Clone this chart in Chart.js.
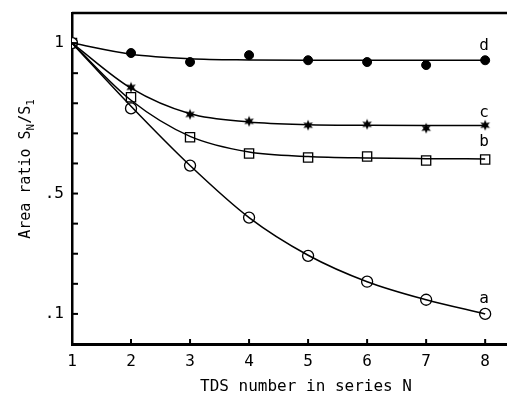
<!DOCTYPE html>
<html>
<head>
<meta charset="utf-8">
<script src="https://cdn.jsdelivr.net/npm/chart.js@4.4.1/dist/chart.umd.min.js"></script>
<style>
html, body { margin: 0; padding: 0; background: #fff; }
</style>
</head>
<body>
<canvas id="lineChart1" width="507" height="395"></canvas>
<script>
// N values
var nVals = [1, 2, 3, 4, 5, 6, 7, 8];
var ptsD = [1.0, 0.967, 0.937, 0.96, 0.943, 0.937, 0.927, 0.943];
var ptsC = [1.0, 0.853, 0.763, 0.74, 0.727, 0.73, 0.717, 0.727];
var ptsB = [1.0, 0.82, 0.687, 0.633, 0.62, 0.623, 0.61, 0.613];
var ptsA = [1.0, 0.783, 0.593, 0.42, 0.293, 0.207, 0.147, 0.1];
// drawn curves at each N
var fitD = [1.0, 0.963, 0.948, 0.944, 0.943, 0.943, 0.943, 0.943];
var fitC = [1.0, 0.85, 0.765, 0.738, 0.729, 0.727, 0.726, 0.726];
var fitB = [1.0, 0.81, 0.69, 0.638, 0.623, 0.618, 0.616, 0.615];
var fitA = [1.0, 0.79, 0.593, 0.42, 0.295, 0.207, 0.147, 0.1];
var curveNames = ["d", "c", "b", "a"];
var yLabelTicks = [1, 0.5, 0.1];

var FONT = "'DejaVu Sans Mono', monospace";

function xy(ys) {
  return nVals.map(function (n, i) { return { x: n, y: ys[i] }; });
}

// small filled six point star for curve c
var star = document.createElement("canvas");
star.width = 12; star.height = 12;
(function () {
  var c = star.getContext("2d");
  c.fillStyle = "#000";
  c.beginPath();
  for (var i = 0; i < 12; i++) {
    var r = (i % 2 === 0) ? 5.5 : 2.6;
    var a = -Math.PI / 2 + i * Math.PI / 6;
    var px = 6 + r * Math.cos(a), py = 6 + r * Math.sin(a);
    if (i === 0) c.moveTo(px, py); else c.lineTo(px, py);
  }
  c.closePath();
  c.fill();
})();

var fitStyle = {
  showLine: true, borderColor: "#000", borderWidth: 1.5,
  pointRadius: 0, cubicInterpolationMode: "monotone", fill: false
};
var markStyle = { showLine: false, borderColor: "#000" };

var frame = {
  id: "frame",
  afterDraw: function (chart) {
    var ctx = chart.ctx, ca = chart.chartArea;
    var xs = chart.scales.x, ys = chart.scales.y;
    ctx.save();
    ctx.strokeStyle = "#000";
    // top border
    ctx.lineWidth = 2.5;
    ctx.beginPath();
    ctx.moveTo(ca.left, ca.top);
    ctx.lineTo(ca.right, ca.top);
    ctx.stroke();
    // inward ticks
    ctx.lineWidth = 2;
    ys.ticks.forEach(function (t) {
      if (t.value <= 0) return;
      var py = ys.getPixelForValue(t.value);
      ctx.beginPath();
      ctx.moveTo(ca.left, py);
      ctx.lineTo(ca.left + 6, py);
      ctx.stroke();
    });
    xs.ticks.forEach(function (t) {
      if (t.value <= 1) return;
      var px = xs.getPixelForValue(t.value);
      ctx.beginPath();
      ctx.moveTo(px, ca.bottom);
      ctx.lineTo(px, ca.bottom - 5);
      ctx.stroke();
    });
    // curve letters above last point
    ctx.fillStyle = "#000";
    ctx.font = "16px " + FONT;
    ctx.textAlign = "center";
    ctx.textBaseline = "middle";
    var lastFits = [fitD, fitC, fitB, fitA];
    var lift = [14, 13, 17, 15];
    curveNames.forEach(function (nm, i) {
      var f = lastFits[i];
      ctx.fillText(nm, xs.getPixelForValue(nVals[nVals.length - 1]) - 1,
        ys.getPixelForValue(f[f.length - 1]) - lift[i]);
    });
    // x title
    ctx.font = "16px " + FONT;
    ctx.textBaseline = "alphabetic";
    ctx.fillText("TDS number in series N", 306, 391);
    // y title with subscripts
    ctx.translate(25, 169);
    ctx.rotate(-Math.PI / 2);
    var parts = [["Area ratio S", 15, 0], ["N", 11, 4], ["/S", 15, 0], ["1", 11, 4]];
    var total = 0;
    parts.forEach(function (p) { ctx.font = p[1] + "px " + FONT; total += ctx.measureText(p[0]).width; });
    var cx = -total / 2;
    ctx.textAlign = "left";
    parts.forEach(function (p) {
      ctx.font = p[1] + "px " + FONT;
      ctx.fillText(p[0], cx, 5 + p[2]);
      cx += ctx.measureText(p[0]).width;
    });
    ctx.restore();
  }
};

var ctx = document.getElementById("lineChart1");
var chart = new Chart(ctx, {
  type: "scatter",
  data: {
    datasets: [
      Object.assign({ data: xy(fitD) }, fitStyle),
      Object.assign({ data: xy(fitC) }, fitStyle),
      Object.assign({ data: xy(fitB) }, fitStyle),
      Object.assign({ data: xy(fitA) }, fitStyle),
      Object.assign({ data: xy(ptsA), pointStyle: "circle", pointRadius: 5.5,
        backgroundColor: "#fff", pointBorderWidth: 1.3 }, markStyle),
      Object.assign({ data: xy(ptsB), pointStyle: "rect", pointRadius: 6.5,
        backgroundColor: "#fff", pointBorderWidth: 1.3 }, markStyle),
      Object.assign({ data: xy(ptsC), pointStyle: star, pointRadius: 6 }, markStyle),
      Object.assign({ data: xy(ptsD), pointStyle: "circle", pointRadius: 4.5,
        backgroundColor: "#000", pointBorderWidth: 1 }, markStyle)
    ]
  },
  options: {
    responsive: false,
    animation: false,
    devicePixelRatio: 1,
    layout: { autoPadding: false, padding: { top: 13, right: 0, left: 0, bottom: 0 } },
    plugins: { legend: { display: false }, tooltip: { enabled: false } },
    scales: {
      x: {
        type: "linear", min: 1, max: 8.37,
        afterBuildTicks: function (s) {
          s.ticks = nVals.map(function (n) { return { value: n }; });
        },
        afterFit: function (s) { s.height = 51; s.paddingLeft = 0; s.paddingRight = 0; },
        grid: { display: false, drawTicks: false },
        border: { display: true, color: "#000", width: 3 },
        ticks: {
          padding: 8, color: "#000",
          font: { family: FONT, size: 16 },
          autoSkip: false, maxRotation: 0,
          callback: function (v) { return String(v); }
        }
      },
      y: {
        min: 0, max: 1.1,
        afterFit: function (s) { s.width = 72; s.paddingTop = 0; s.paddingBottom = 0; },
        grid: { display: false, drawTicks: false },
        border: { display: true, color: "#000", width: 2.5 },
        ticks: {
          stepSize: 0.1, padding: 8, color: "#000",
          font: { family: FONT, size: 16 },
          autoSkip: false,
          callback: function (v) {
            var r = Math.round(v * 10) / 10;
            if (yLabelTicks.indexOf(r) < 0) return "";
            return r === 1 ? "1" : String(r).replace("0.", ".");
          }
        }
      }
    }
  },
  plugins: [frame]
});
</script>
</body>
</html>
